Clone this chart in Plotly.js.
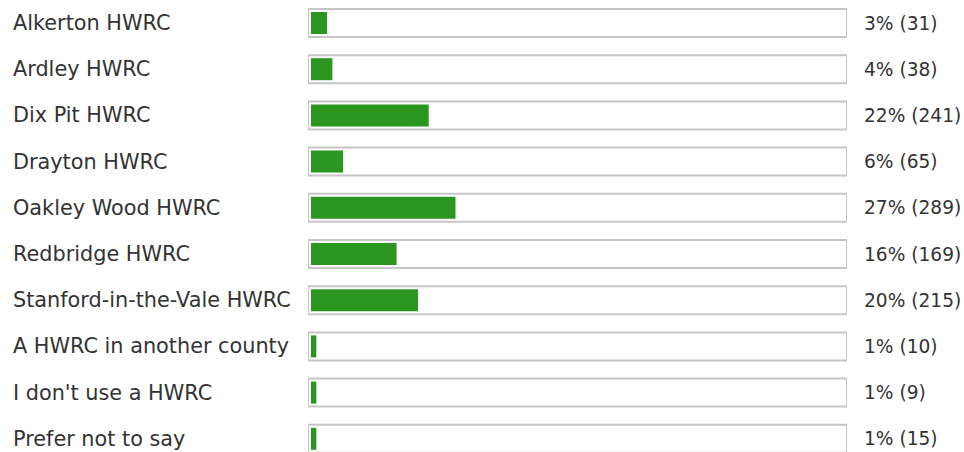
<!DOCTYPE html>
<html>
<head>
<meta charset="utf-8">
<script src="https://cdn.plot.ly/plotly-3.0.1.min.js"></script>
<style>html,body{margin:0;padding:0;background:#fff;}#chart{width:964px;height:452px;}</style>
</head>
<body>
<div id="chart"></div>
<script>
const categories = ["Alkerton HWRC","Ardley HWRC","Dix Pit HWRC","Drayton HWRC","Oakley Wood HWRC","Redbridge HWRC","Stanford-in-the-Vale HWRC","A HWRC in another county","I don't use a HWRC","Prefer not to say"];
const counts = [31, 38, 241, 65, 289, 169, 215, 10, 9, 15];
const percents = [3, 4, 22, 6, 27, 16, 20, 1, 1, 1];

const idx = categories.map((_,i)=>i);
const font = {family: "DejaVu Sans, sans-serif", size: 20.8, color: "#333333"};
const rfont = {family: "DejaVu Sans, sans-serif", size: 18.6, color: "#333333"};

const track = {
  type: "bar", orientation: "h", y: idx, x: categories.map(()=>100), base: 0,
  width: 0.606, marker: {color: "#ffffff", line: {color: "#c6c6c6", width: 2}},
  hoverinfo: "skip", showlegend: false
};
const bars = {
  type: "bar", orientation: "h", y: idx, x: percents.map(p => p*0.993), base: 0.55,
  width: 0.476, marker: {color: "#2a961f", line: {width: 0}},
  hoverinfo: "skip", showlegend: false
};

const annotations = [];
categories.forEach((c,i)=>{
  annotations.push({xref:"paper", yref:"y", x:0, y:i, xanchor:"left", yanchor:"middle", xshift:-297, text:c, showarrow:false, font:font});
  annotations.push({xref:"paper", yref:"y", x:1, y:i, xanchor:"left", yanchor:"middle", xshift:15, text:percents[i]+"% ("+counts[i]+")", showarrow:false, font:rfont});
});

const layout = {
  width: 964, height: 452,
  margin: {l: 308, r: 117, t: 0, b: 0, pad: 0},
  barmode: "overlay",
  paper_bgcolor: "#ffffff", plot_bgcolor: "#ffffff",
  xaxis: {range: [0, 100], visible: false, fixedrange: true},
  yaxis: {range: [9.286, -0.498], visible: false, fixedrange: true},
  annotations: annotations,
  font: font
};
Plotly.newPlot("chart", [track, bars], layout, {displayModeBar: false, staticPlot: true});
</script>
</body>
</html>
